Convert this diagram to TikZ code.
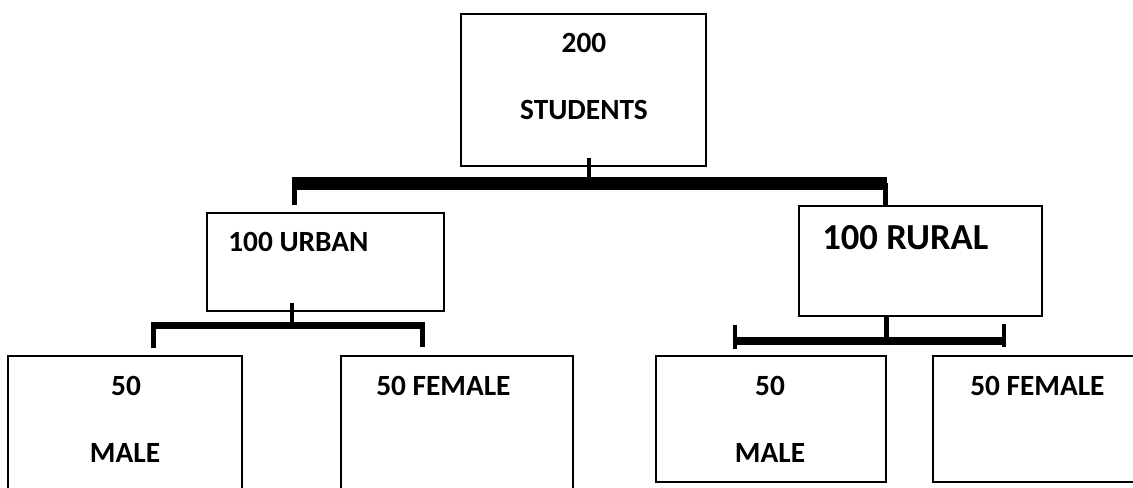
\documentclass[tikz,border=0pt]{standalone}
\usepackage{fontspec}
\setmainfont{Carlito}
\begin{document}
\begin{tikzpicture}[x=0.75pt,y=0.75pt,yscale=-1,xscale=1,
	box/.style={draw, line width=1.1pt, inner sep=0pt},
	lbl/.style={inner sep=0pt, font=\fontsize{22pt}{26pt}\selectfont\bfseries},
	stub/.style={line width=3pt},
	leg/.style={line width=3.75pt},
	endbar/.style={line width=3pt}]
	%set diagram size 1133 x 488
	\path[use as bounding box] (0,0) rectangle (1133,488);
	\clip (0,0) rectangle (1133,488);
	
	%Shape: Rectangle (top)
	\node[box, minimum width=183.75pt, minimum height=114pt] (students) at (583.5,90) {};
	%Shape: Rectangle (second row)
	\node[box, minimum width=177.75pt, minimum height=73.5pt] (urban) at (325.5,262) {};
	\node[box, minimum width=182.25pt, minimum height=82.5pt] (rural) at (920.5,261) {};
	%Shape: Rectangle (bottom row)
	\node[box, minimum width=175.5pt, minimum height=108pt] (umale) at (125,428) {};
	\node[box, minimum width=174pt, minimum height=108pt] (ufemale) at (457,428) {};
	\node[box, minimum width=172.5pt, minimum height=94.5pt] (rmale) at (771,419) {};
	\node[box, minimum width=159pt, minimum height=94.5pt] (rfemale) at (1039,419) {};
	
	% Text Node
	\node[lbl] (t200) at (584,43) {200};
	\node[lbl] (tstudents) at (584,110) {STUDENTS};
	\node[lbl, anchor=west] (turban) at (228,242) {100 URBAN};
	\node[lbl, anchor=west, font=\fontsize{27.5pt}{32pt}\selectfont\bfseries] (trural) at (822,238) {100 RURAL};
	\node[lbl] (tumale) at (126,386) {50};
	\node[lbl] (tumale2) at (125,453) {MALE};
	\node[lbl, anchor=west] (tufemale) at (376,386) {50 FEMALE};
	\node[lbl] (trmale) at (770,386) {50};
	\node[lbl] (trmale2) at (770,453) {MALE};
	\node[lbl, anchor=west] (trfemale) at (970,386) {50 FEMALE};
	
	%Straight Lines (students bracket)
	\coordinate (j0) at (589,183.5);
	\coordinate (j0l) at (292,183.5);
	\coordinate (j0r) at (887,183.5);
	\coordinate (k1) at (294.5,183.5);
	\coordinate (k2) at (885,183.5);
	\draw[stub] ([yshift=-6.75pt]students.south -| j0) -- (j0);
	\draw[line width=9.75pt] (j0l) -- (j0r);
	\draw[leg] (k1) -- ([yshift=-5.25pt]k1 |- urban.north);
	\draw[leg] (k2) -- (k2 |- rural.north);
	
	%Straight Lines (urban bracket)
	\coordinate (j1) at (292,325.5);
	\coordinate (j1l) at (151,325.5);
	\coordinate (j1r) at (425,325.5);
	\coordinate (k3) at (153,325.5);
	\coordinate (k4) at (422,325.5);
	\draw[stub] ([yshift=-6.75pt]urban.south -| j1) -- (j1);
	\draw[line width=5.25pt] (j1l) -- (j1r);
	\draw[leg] (k3) -- ([yshift=-5.25pt]k3 |- umale.north);
	\draw[leg] (k4) -- ([yshift=-6pt]k4 |- ufemale.north);
	
	%Straight Lines (rural bracket)
	\coordinate (j2) at (886.5,341);
	\coordinate (j2l) at (735,341);
	\coordinate (j2r) at (1004,341);
	\draw[line width=3.5pt] (rural.south -| j2) -- (j2);
	\draw[line width=6pt] (j2l) -- (j2r);
	\draw[endbar] ([yshift=-12pt]j2l) -- ([yshift=6pt]j2l);
	\draw[endbar] ([yshift=-12.75pt]j2r) -- ([yshift=4.5pt]j2r);
	
\end{tikzpicture}
\end{document}
